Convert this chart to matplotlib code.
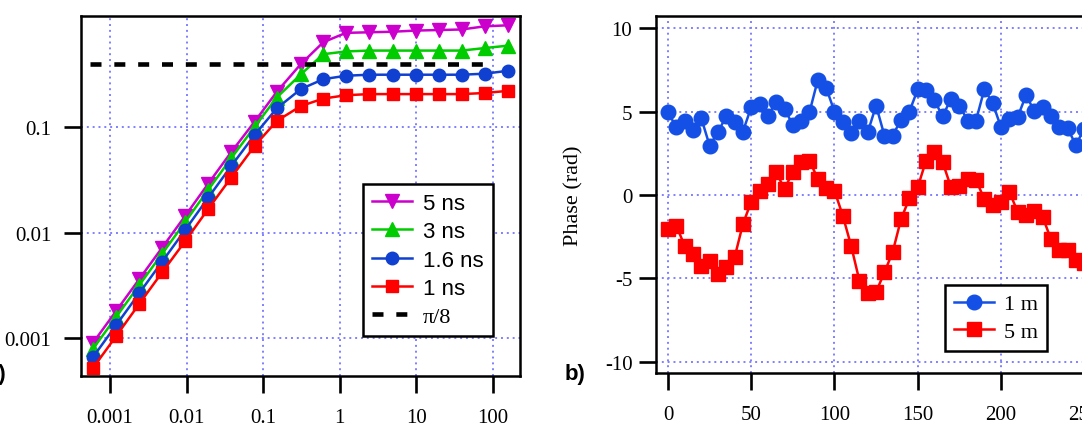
import matplotlib
matplotlib.use("Agg")
import matplotlib.pyplot as plt
import numpy as np

# ---- data (panel a) ----
delay = [0.0006, 0.0012, 0.0024, 0.0048, 0.0096, 0.019, 0.038, 0.077, 0.15,
         0.31, 0.61, 1.2, 2.4, 4.9, 9.8, 19.5, 39, 78, 156]
y_5ns = [0.00090, 0.0018, 0.0036, 0.0072, 0.0144, 0.0288, 0.0575, 0.112, 0.215,
         0.395, 0.637, 0.78, 0.79, 0.80, 0.82, 0.83, 0.84, 0.90, 0.92]
y_3ns = [0.00079, 0.00158, 0.00316, 0.0063, 0.0126, 0.0252, 0.0503, 0.100, 0.19,
         0.316, 0.49, 0.52, 0.53, 0.53, 0.53, 0.53, 0.53, 0.56, 0.59]
y_16ns = [0.00066, 0.00132, 0.00265, 0.0053, 0.0106, 0.0212, 0.0424, 0.084, 0.150,
          0.229, 0.284, 0.306, 0.313, 0.313, 0.313, 0.313, 0.313, 0.32, 0.341]
y_1ns = [0.00052, 0.00104, 0.0021, 0.0042, 0.0083, 0.0166, 0.033, 0.066, 0.114,
         0.158, 0.186, 0.20, 0.205, 0.205, 0.205, 0.205, 0.205, 0.21, 0.22]
pi8_x = [0.00055, 106]
pi8_y = [np.pi / 8, np.pi / 8]
xticks_a = [0.001, 0.01, 0.1, 1, 10, 100]
xlabels_a = ["0.001", "0.01", "0.1", "1", "10", "100"]
yticks_a = [0.001, 0.01, 0.1]
ylabels_a = ["0.001", "0.01", "0.1"]

# ---- data (panel b) ----
t = list(range(0, 251, 5))
phase_1m = [4.96, 4.06, 4.46, 3.92, 4.6, 2.96, 3.76, 4.72, 4.36, 3.8,
            5.26, 5.46, 4.76, 5.56, 5.16, 4.2, 4.46, 4.96, 6.9, 6.42,
            5.0, 4.36, 3.72, 4.46, 3.76, 5.36, 3.56, 3.56, 4.52, 5.0,
            6.32, 6.26, 5.66, 4.72, 5.76, 5.36, 4.46, 4.46, 6.32, 5.52,
            4.06, 4.56, 4.66, 5.96, 5.06, 5.26, 4.76, 4.06, 4.0, 3.0, 3.96]
phase_5m = [-2.04, -1.84, -3.04, -3.54, -4.24, -3.94, -4.74, -4.34, -3.74, -1.74,
            -0.4, 0.26, 0.66, 1.36, 0.36, 1.4, 1.96, 2.06, 0.96, 0.4,
            0.26, -1.24, -3.04, -5.14, -5.88, -5.8, -4.64, -3.4, -1.44, -0.2,
            0.46, 2.06, 2.56, 1.96, 0.46, 0.52, 0.96, 0.9, -0.24, -0.6,
            -0.44, 0.2, -1.0, -1.2, -0.94, -1.3, -2.64, -3.3, -3.3, -3.9, -4.1]
xticks_b = [0, 50, 100, 150, 200, 250]
yticks_b = [-10, -5, 0, 5, 10]

plt.rcParams['font.family'] = ['Liberation Serif', 'DejaVu Serif']
plt.rcParams['axes.unicode_minus'] = False

W, H = 1082, 427
fig = plt.figure(figsize=(W / 100, H / 100), dpi=100)

def px_axes(l, t_, r, b):
    return fig.add_axes([l / W, 1 - b / H, (r - l) / W, (b - t_) / H])

grid_kw = dict(color='#8080ff', linestyle=(0, (1, 2)), linewidth=1.4)
magenta, green, blue, red = '#cc00cc', '#00cc00', '#1040d0', '#ff0000'

def style_axes(ax):
    for s in ax.spines.values():
        s.set_linewidth(1.8)
    ax.tick_params(which='major', direction='out', length=12, width=1.9,
                   labelsize=15, top=False, right=False)
    ax.tick_params(which='minor', length=0)
    ax.grid(True, **grid_kw)
    ax.set_axisbelow(True)

# ---- panel a ----
ax1 = px_axes(80.5, 17, 520, 377)
ax1.set_xscale('log')
ax1.set_yscale('log')
ax1.plot(delay, y_5ns, color=magenta, marker='v', ms=10, lw=1.8, label='5 ns')
ax1.plot(delay, y_3ns, color=green, marker='^', ms=10, lw=1.8, label='3 ns')
ax1.plot(delay, y_16ns, color=blue, marker='o', ms=9, lw=1.8, label='1.6 ns')
ax1.plot(delay, y_1ns, color=red, marker='s', ms=9, lw=1.8, label='1 ns')
ax1.plot(pi8_x, pi8_y, color='black', lw=3.3, dashes=(2.4, 2.8), label=r'π/8')
ax1.set_xlim(10 ** -3.385, 10 ** 2.352)
ax1.set_ylim(10 ** -3.36, 10 ** 0.052)
ax1.set_xticks(xticks_a, xlabels_a)
ax1.set_yticks(yticks_a, ylabels_a)
ax1.xaxis.set_minor_locator(matplotlib.ticker.NullLocator())
ax1.yaxis.set_minor_locator(matplotlib.ticker.NullLocator())
style_axes(ax1)
ax1.tick_params(axis='x', pad=11)
ax1.tick_params(axis='y', pad=9)

leg1 = ax1.legend(loc='upper left', bbox_to_anchor=(363 / W, 1 - 185 / H),
                  bbox_transform=fig.transFigure, borderaxespad=0,
                  prop={'family': 'Liberation Sans', 'size': 16},
                  handlelength=1.8, handletextpad=0.5, labelspacing=0.33,
                  borderpad=0.4, fancybox=False, framealpha=1)
leg1.get_frame().set_edgecolor('black')
leg1.get_frame().set_linewidth(1.8)
leg1.get_texts()[-1].set_fontfamily('Liberation Serif')

# ---- panel b ----
ax2 = px_axes(656, 17, 1110, 374)
ax2.plot(t, phase_1m, color='#1450e6', marker='o', ms=10.5, lw=1.8, label='1 m')
ax2.plot(t, phase_5m, color=red, marker='s', ms=10.5, lw=1.8, label='5 m')
ax2.set_xlim(-7.2, 265.5)
ax2.set_ylim(-10.66, 10.72)
ax2.set_xticks(xticks_b, [str(v) for v in xticks_b])
ax2.set_yticks(yticks_b, [str(v) for v in yticks_b])
style_axes(ax2)
ax2.tick_params(axis='x', pad=11)
ax2.tick_params(axis='y', pad=5)
ax2.set_ylabel('Phase (rad)', fontsize=16)
ax2.yaxis.set_label_coords((583 - 656) / 454, 0.5)

leg2 = ax2.legend(loc='upper left', bbox_to_anchor=(945 / W, 1 - 286 / H),
                  bbox_transform=fig.transFigure, borderaxespad=0,
                  prop={'family': 'Liberation Serif', 'size': 16},
                  handlelength=1.8, handletextpad=0.45, labelspacing=0.3,
                  borderpad=0.4, fancybox=False, framealpha=1)
leg2.get_frame().set_edgecolor('black')
leg2.get_frame().set_linewidth(1.8)

# panel letters
fig.text(-14 / W, 1 - 380 / H, 'a)', fontsize=16, fontweight='bold',
         family='Liberation Sans', va='baseline')
fig.text(565 / W, 1 - 380 / H, 'b)', fontsize=16, fontweight='bold',
         family='Liberation Sans', va='baseline')

fig.savefig('out.png', dpi=100)
